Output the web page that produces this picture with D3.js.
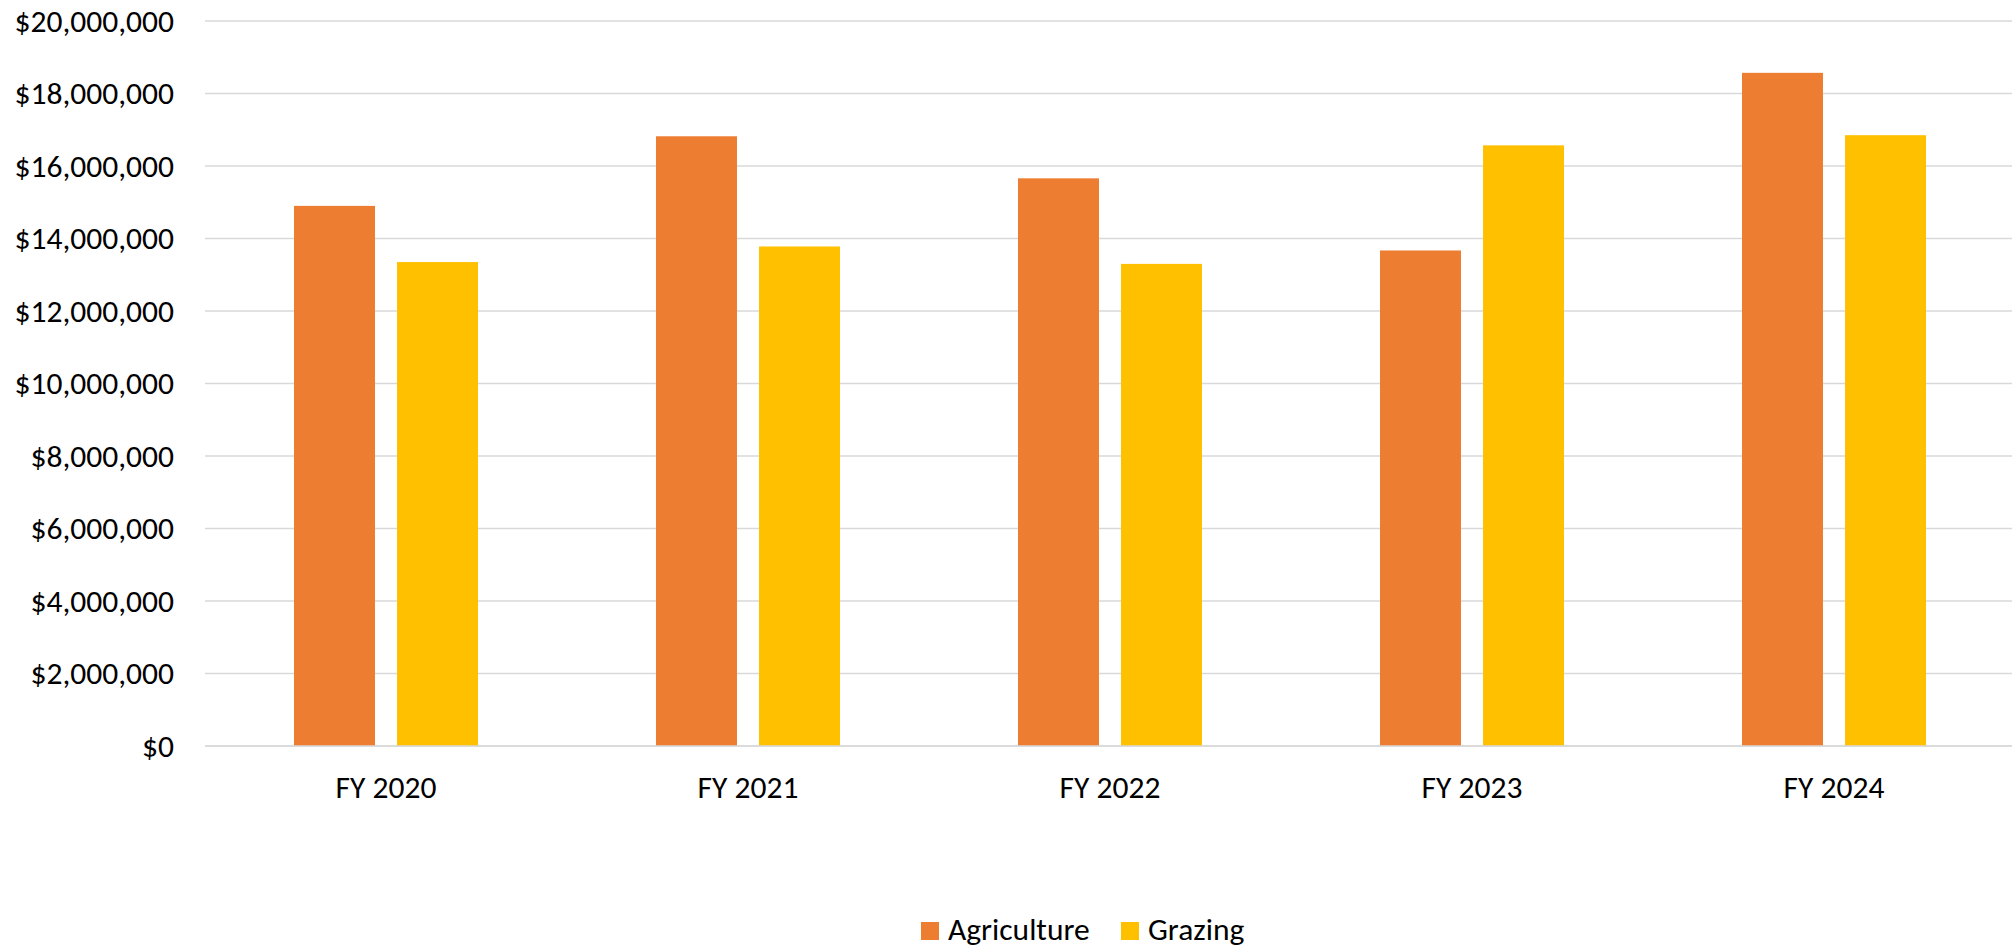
<!DOCTYPE html>
<html>
<head>
<meta charset="utf-8">
<script src="https://cdn.jsdelivr.net/npm/d3@7"></script>
<style>
  html, body { margin: 0; padding: 0; background: #fff; }
  svg { display: block; }
  text { font-family: Carlito, Calibri, Lato, sans-serif; fill: #000; }
</style>
</head>
<body>
<svg id="chart" width="2012" height="948"></svg>
<script>
const categories = ["FY 2020", "FY 2021", "FY 2022", "FY 2023", "FY 2024"];
const seriesNames = ["Agriculture", "Grazing"];
const agriculture = [14900000, 16820000, 15660000, 13670000, 18570000];
const grazing = [13350000, 13780000, 13300000, 16570000, 16850000];
const yTicks = [0, 2000000, 4000000, 6000000, 8000000, 10000000, 12000000, 14000000, 16000000, 18000000, 20000000];
const colors = ["#ED7D31", "#FFC000"];

(function () {
const svg = d3.select("#chart");
const plotLeft = 205, plotRight = 2015, plotTop = 21, plotBottom = 746;
const fontSize = "31.5px";

const x0 = d3.scaleBand().domain(categories).range([plotLeft, plotRight])
  .paddingInner(0.4917).paddingOuter(0.24585);
const x1 = d3.scaleBand().domain(seriesNames).range([0, x0.bandwidth()])
  .paddingInner(0.214).paddingOuter(0);
const y = d3.scaleLinear().domain([0, 20000000]).range([plotBottom, plotTop]);

const fmt = v => "$" + d3.format(",")(v);

// gridlines
svg.append("g").selectAll("line").data(yTicks).join("line")
  .attr("x1", plotLeft).attr("x2", 2012)
  .attr("y1", d => y(d)).attr("y2", d => y(d))
  .attr("stroke", "#D9D9D9").attr("stroke-width", 1.5);

// y axis labels
const yAxis = d3.axisLeft(y).tickValues(yTicks).tickFormat(fmt).tickSize(0).tickPadding(0);
const gy = svg.append("g").attr("transform", `translate(174,0)`).call(yAxis);
gy.select(".domain").remove();
gy.selectAll("text").style("font-size", fontSize).attr("fill", "#000")
  .style("font-family", "Carlito, Calibri, Lato, sans-serif");

// bars
const data = categories.map((c, i) => ({ cat: c, values: [agriculture[i], grazing[i]] }));
const groups = svg.append("g").selectAll("g").data(data).join("g")
  .attr("transform", d => `translate(${x0(d.cat)},0)`);
groups.selectAll("rect").data(d => d.values.map((v, j) => ({ name: seriesNames[j], v, j })))
  .join("rect")
  .attr("x", d => x1(d.name))
  .attr("width", x1.bandwidth())
  .attr("y", d => y(d.v))
  .attr("height", d => y(0) - y(d.v))
  .attr("fill", d => colors[d.j]);

// baseline
svg.append("line").attr("x1", plotLeft).attr("x2", 2012)
  .attr("y1", y(0)).attr("y2", y(0))
  .attr("stroke", "#D9D9D9").attr("stroke-width", 1.5);

// x axis labels
const xAxis = d3.axisBottom(x0).tickSize(0).tickPadding(0);
const gx = svg.append("g").attr("transform", `translate(0,${plotBottom})`).call(xAxis);
gx.select(".domain").remove();
gx.selectAll("text").attr("dy", null).attr("y", 52).style("font-size", fontSize).attr("fill", "#000")
  .style("font-family", "Carlito, Calibri, Lato, sans-serif");

// legend
const legendItems = [
  { name: seriesNames[0], color: colors[0], x: 921 },
  { name: seriesNames[1], color: colors[1], x: 1121 }
];
const lg = svg.append("g");
legendItems.forEach(it => {
  lg.append("rect").attr("x", it.x).attr("y", 922).attr("width", 18).attr("height", 18).attr("fill", it.color);
  lg.append("text").attr("x", it.x + 27).attr("y", 939.5).style("font-size", fontSize).text(it.name);
});
})();
</script>
</body>
</html>
